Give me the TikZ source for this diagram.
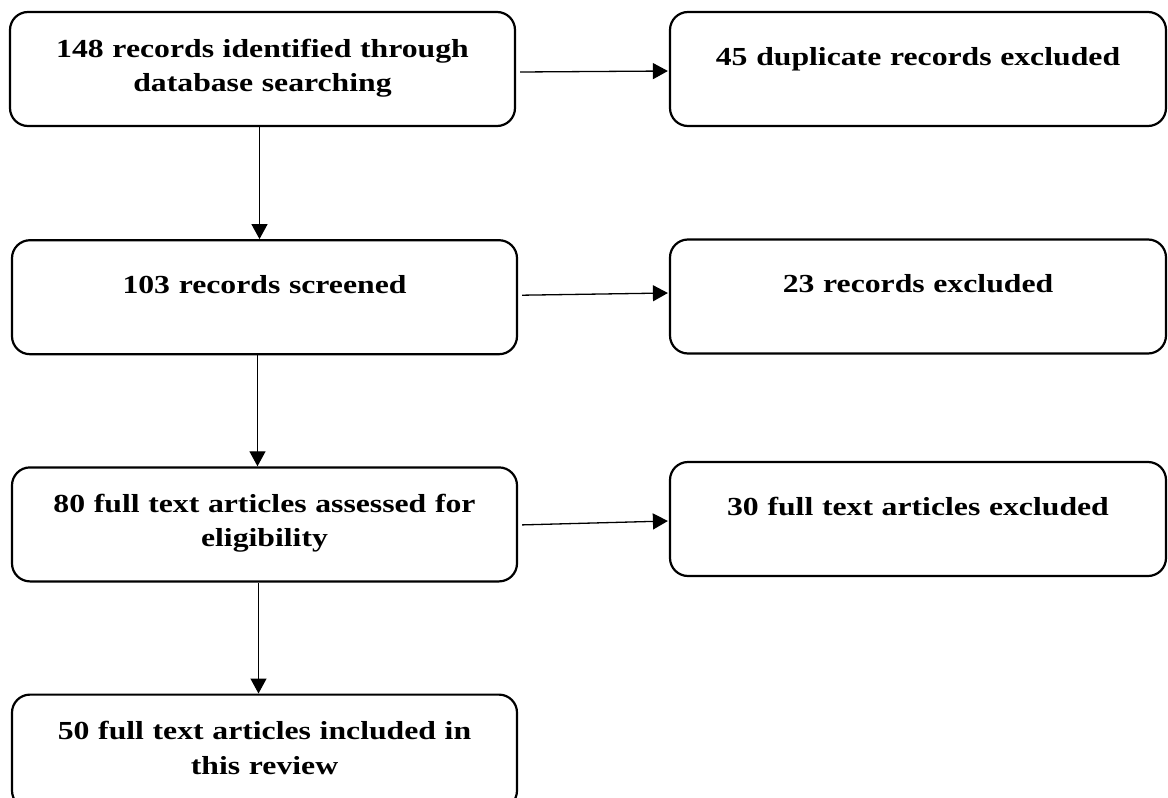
\documentclass[tikz,border=0pt]{standalone}
\usepackage{fontspec}
\setmainfont{Liberation Serif}[FakeStretch=1.22]
\usetikzlibrary{positioning,arrows.meta}

\tikzset{
	stepbox/.style={draw, line width=2.2pt, rounded corners=18pt,
		inner xsep=0pt, inner ysep=0pt, text width=505pt, align=center,
		font=\fontsize{26}{34.5}\selectfont\bfseries},
	outbox/.style={stepbox, text width=496pt},
	onerow/.style={text height=53pt, text depth=61pt},
	tworow/.style={text height=45pt, text depth=69pt},
	flow/.style={line width=1.3pt, -{Triangle[length=15pt,width=16pt]}}
}

\begin{document}
\begin{tikzpicture}
	\useasboundingbox (0,0) rectangle (1168pt,-798pt);
	
	% main column
	\node[stepbox, tworow] (found) at (262.5pt,-69pt) {148 records identified through\\ database searching};
	\node[stepbox, onerow, below=112pt of found, xshift=2pt] (screen) {103 records screened};
	\node[stepbox, tworow, below=111pt of screen] (assess) {80 full text articles assessed for\\ eligibility};
	\node[stepbox, tworow, below=111pt of assess] (incl) {50 full text articles included in\\ this review};
	
	% excluded column
	\node[outbox, onerow] (dupl) at (918pt,-69pt) {45 duplicate records excluded};
	\node[outbox, onerow] (excl) at (918pt,-296.5pt) {23 records excluded};
	\node[outbox, onerow] (fullx) at (918pt,-519pt) {30 full text articles excluded};
	
	\draw[flow] ([xshift=-3pt]found.south) -- ([xshift=-3pt]found.south |- screen.north);
	\draw[flow] ([xshift=-7pt]screen.south) -- ([xshift=-7pt]screen.south |- assess.north);
	\draw[flow] ([xshift=-6pt]assess.south) -- ([xshift=-6pt]assess.south |- incl.north);
	
	\draw[flow] ([xshift=4pt,yshift=-3pt]found.east) -- ([xshift=-1pt,yshift=-2pt]dupl.west);
	\draw[flow] ([xshift=4pt,yshift=2pt]screen.east) -- ([xshift=-1pt,yshift=3.5pt]excl.west);
	\draw[flow] ([xshift=4pt,yshift=-0.5pt]assess.east) -- ([xshift=-1pt,yshift=-2pt]fullx.west);
\end{tikzpicture}
\end{document}
